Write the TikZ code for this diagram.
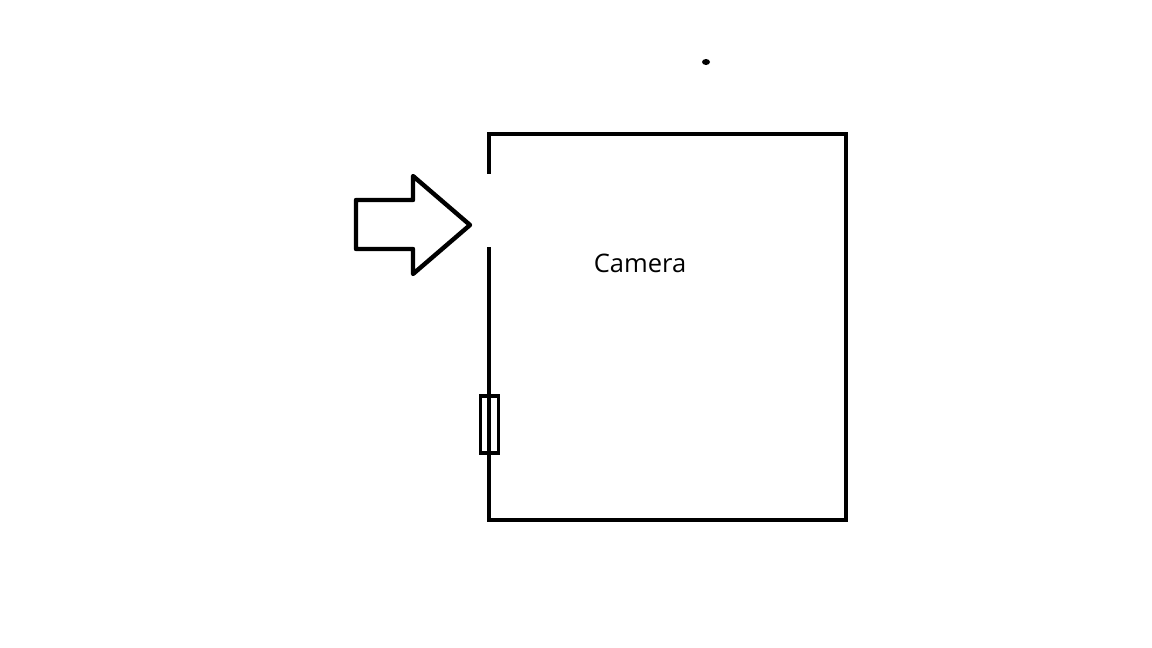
\documentclass[tikz,border=0pt]{standalone}
\usepackage{fontspec}
\setmainfont{Open Sans}
\begin{document}
\begin{tikzpicture}[x=1pt,y=-1pt,
  wall/.style={line width=4.6pt,line cap=rect},
  arrowshape/.style={line width=4.4pt,line join=round},
  fuse/.style={line width=3.6pt},
  lbl/.style={font=\fontsize{25.5}{30}\selectfont,inner sep=0pt}]
\useasboundingbox (0,0) rectangle (1152,648);
\coordinate (gtop) at (489,172);
\coordinate (gbot) at (489,249);
\coordinate (tl) at (489,134);
\coordinate (tr) at (846,134);
\coordinate (br) at (846,520);
\coordinate (bl) at (489,520);
\draw[wall] (gtop) -- (tl) -- (tr) -- (br) -- (bl) -- (gbot);
\node[draw,fuse,minimum width=18pt,minimum height=57pt,inner sep=0pt] (fuse) at (489.5,424.5) {};
\draw[arrowshape] (356,200) -- (413,200) -- (413,176) -- (470,225) -- (413,274) -- (413,249) -- (356,249) -- cycle;
\node[lbl,anchor=base] (cam) at (640,272) {Camera};
\fill (706,62) ellipse (4pt and 3pt);
\end{tikzpicture}
\end{document}
